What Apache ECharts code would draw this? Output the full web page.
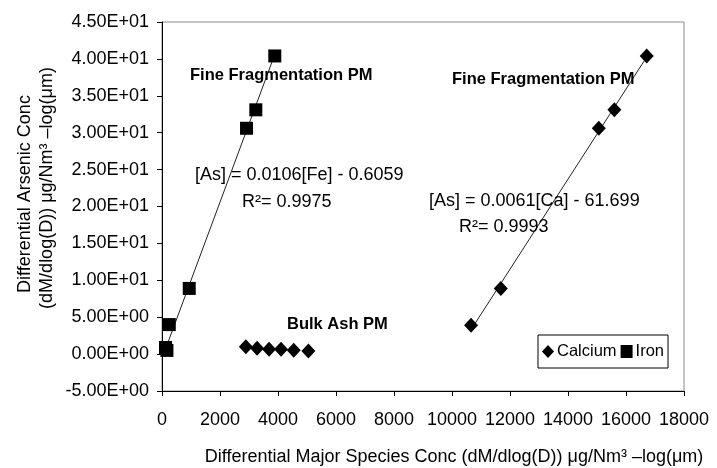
<!DOCTYPE html>
<html>
<head>
<meta charset="utf-8">
<script src="https://cdn.jsdelivr.net/npm/echarts@6/dist/echarts.min.js"></script>
<style>
html,body{margin:0;padding:0;background:#fff;}
#chart{width:717px;height:468px;}
</style>
</head>
<body>
<div id="chart"></div>
<script>
// ---- data ----
const calciumFine = [[10657, 3.9], [11683, 8.9], [15062, 30.6], [15599, 33.1], [16714, 40.4]];
const calciumBulk = [[2891, 1.0], [3279, 0.8], [3692, 0.67], [4105, 0.67], [4542, 0.53], [5048, 0.43]];
const iron = [[120, 0.9], [170, 0.5], [251, 4.0], [939, 8.9], [2915, 30.6], [3235, 33.1], [3889, 40.4]];
const ironTrend = [[120, 0.67], [3889, 40.6]];
const calciumTrend = [[10657, 3.31], [16714, 40.26]];
const xTicks = [0, 18000, 2000];
const yTicks = [-5, 45, 5];
const legendNames = ['Calcium', 'Iron'];
const annotations = [
  {text: 'Fine Fragmentation PM', bold: true, x: 190, y: 75},
  {text: 'Fine Fragmentation PM', bold: true, x: 452, y: 79},
  {text: '[As] = 0.0106[Fe] - 0.6059', bold: false, x: 195, y: 175},
  {text: 'R\u00B2= 0.9975', bold: false, x: 242, y: 202},
  {text: '[As] = 0.0061[Ca] - 61.699', bold: false, x: 429, y: 201},
  {text: 'R\u00B2= 0.9993', bold: false, x: 459, y: 227},
  {text: 'Bulk Ash PM', bold: true, x: 287, y: 324}
];
const xTitle = 'Differential Major Species Conc (dM/dlog(D)) \u03BCg/Nm\u00B3 \u2013log(\u03BCm)';
const yTitle1 = 'Differential Arsenic Conc';
const yTitle2 = '(dM/dlog(D)) \u03BCg/Nm\u00B3 \u2013log(\u03BCm)';

const FONT = '"Liberation Sans", Arial, Helvetica, sans-serif';

function sci(v) {
  const s = Number(v).toExponential(2);
  const parts = s.split('e');
  const e = parseInt(parts[1], 10);
  return parts[0] + 'E' + (e < 0 ? '-' : '+') + String(Math.abs(e)).padStart(2, '0');
}

const graphics = annotations.map(a => ({
  type: 'text', x: a.x, y: a.y, z: 100,
  style: {
    text: a.text, fill: '#000', align: 'left', verticalAlign: 'middle',
    font: (a.bold ? 'bold 16.5px ' : '18px ') + FONT
  }
}));
graphics.push({
  type: 'text', x: 454, y: 457, z: 100,
  style: {text: xTitle, fill: '#000', align: 'center', verticalAlign: 'middle', font: '18px ' + FONT}
});
graphics.push({
  type: 'text', x: 25, y: 194, rotation: Math.PI / 2, z: 100,
  style: {text: yTitle1, fill: '#000', align: 'center', verticalAlign: 'middle', font: '18px ' + FONT}
});
graphics.push({
  type: 'text', x: 47, y: 188, rotation: Math.PI / 2, z: 100,
  style: {text: yTitle2, fill: '#000', align: 'center', verticalAlign: 'middle', font: '18px ' + FONT}
});

const chart = echarts.init(document.getElementById('chart'), null, {renderer: 'canvas'});
chart.setOption({
  animation: false,
  backgroundColor: '#fff',
  textStyle: {fontFamily: FONT},
  grid: {left: 162, right: 33, top: 22, bottom: 77, show: true, borderColor: '#8a8a8a', borderWidth: 1},
  legend: {
    data: [{name: legendNames[0], icon: 'diamond'}, {name: legendNames[1], icon: 'rect'}],
    left: 538, top: 335,
    orient: 'horizontal',
    itemWidth: 12, itemHeight: 13, itemGap: 4,
    padding: [8, 4, 8, 4],
    borderColor: '#000', borderWidth: 1, backgroundColor: '#fff',
    textStyle: {fontSize: 16.5, color: '#000', fontFamily: FONT, padding: [0, 0, 0, -2]},
    selectedMode: false
  },
  xAxis: {
    type: 'value', min: xTicks[0], max: xTicks[1], interval: xTicks[2],
    axisLine: {onZero: false, lineStyle: {color: '#000', width: 1}},
    axisTick: {show: true, inside: false, length: 5, lineStyle: {color: '#000'}},
    axisLabel: {color: '#000', fontSize: 18, margin: 20, fontFamily: FONT, formatter: v => String(v)},
    splitLine: {show: false}
  },
  yAxis: {
    type: 'value', min: yTicks[0], max: yTicks[1], interval: yTicks[2],
    axisLine: {show: true, onZero: false, lineStyle: {color: '#000', width: 1}},
    axisTick: {show: true, inside: false, length: 5, lineStyle: {color: '#000'}},
    axisLabel: {color: '#000', fontSize: 18, margin: 13, fontFamily: FONT, formatter: sci},
    splitLine: {show: false}
  },
  series: [
    {
      name: 'Iron trend', type: 'line', data: ironTrend, showSymbol: false, symbol: 'none',
      lineStyle: {color: '#222', width: 1}, z: 1, silent: true
    },
    {
      name: 'Calcium trend', type: 'line', data: calciumTrend, showSymbol: false, symbol: 'none',
      lineStyle: {color: '#222', width: 1}, z: 1, silent: true
    },
    {
      name: legendNames[0], type: 'scatter', data: calciumFine, symbol: 'diamond', symbolSize: [14, 15],
      itemStyle: {color: '#000', opacity: 1}, z: 3
    },
    {
      name: legendNames[0], type: 'scatter', data: calciumBulk, symbol: 'diamond', symbolSize: [14, 15],
      itemStyle: {color: '#000', opacity: 1}, z: 3
    },
    {
      name: legendNames[1], type: 'scatter', data: iron, symbol: 'rect', symbolSize: [13, 13],
      itemStyle: {color: '#000', opacity: 1}, z: 3
    }
  ],
  graphic: graphics
});
</script>
</body>
</html>
